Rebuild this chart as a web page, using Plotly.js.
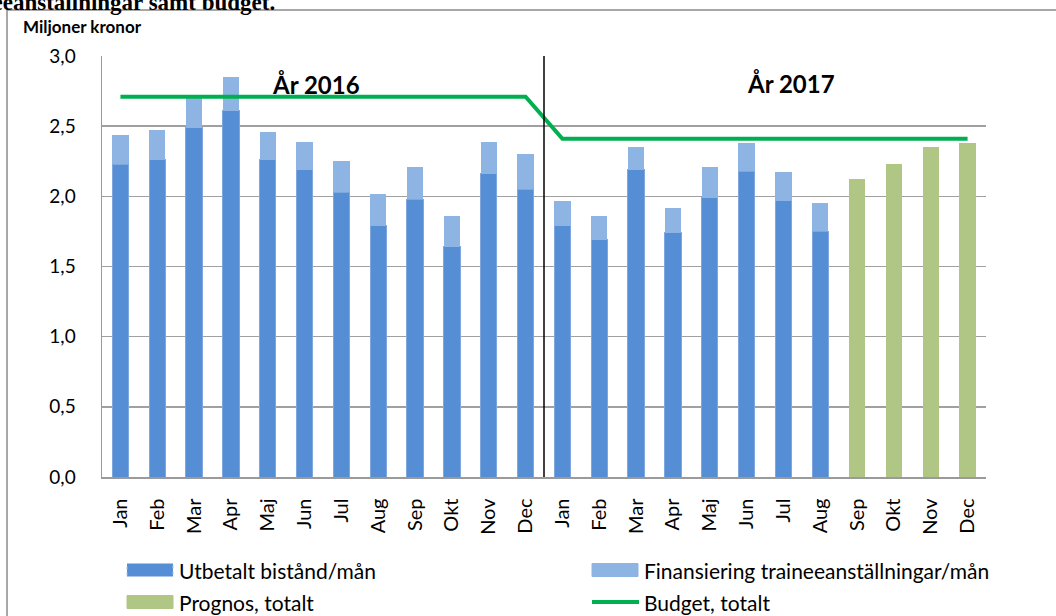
<!DOCTYPE html>
<html>
<head>
<meta charset="utf-8">
<script src="https://cdn.plot.ly/plotly-3.0.1.min.js"></script>
<style>html,body{margin:0;padding:0;background:#fff;}#chart{width:1056px;height:616px;}</style>
</head>
<body>
<div id="chart"></div>
<script>
// ---- data ----
const months = ['Jan','Feb','Mar','Apr','Maj','Jun','Jul','Aug','Sep','Okt','Nov','Dec',
                'Jan','Feb','Mar','Apr','Maj','Jun','Jul','Aug','Sep','Okt','Nov','Dec'];
const utbetalt = [2.23,2.26,2.49,2.61,2.26,2.19,2.03,1.79,1.98,1.64,2.16,2.05,
                  1.79,1.69,2.19,1.74,1.99,2.18,1.97,1.75,null,null,null,null];
const totalActual = [2.44,2.47,2.70,2.85,2.46,2.39,2.25,2.02,2.21,1.86,2.39,2.30,
                  1.97,1.86,2.35,1.92,2.21,2.38,2.17,1.95,null,null,null,null];
const prognos = [null,null,null,null,null,null,null,null,null,null,null,null,
                 null,null,null,null,null,null,null,null,2.12,2.23,2.35,2.38];
const budget = [2.71,2.71,2.71,2.71,2.71,2.71,2.71,2.71,2.71,2.71,2.71,2.71,
                2.41,2.41,2.41,2.41,2.41,2.41,2.41,2.41,2.41,2.41,2.41,2.41];
const yearLabels = ['År 2016','År 2017'];
const seriesNames = ['Utbetalt bistånd/mån','Finansiering traineeanställningar/mån','Prognos, totalt','Budget, totalt'];
const colors = ['#558ED5','#8EB4E3','#AFC685','#00B050'];

const idx = months.map((m,i)=>i);
const finansiering = totalActual.map((t,i)=> t==null ? null : +(t-utbetalt[i]).toFixed(3));

const font = 'Lato, Calibri, "Open Sans", sans-serif';

const traces = [
  {type:'bar', name:seriesNames[0], x:idx, y:utbetalt, width:0.44,
   marker:{color:colors[0], line:{color:'#7EA7DE', width:1}}},
  {type:'bar', name:seriesNames[1], x:idx, y:finansiering, width:0.44,
   marker:{color:colors[1]}},
  {type:'bar', name:seriesNames[2], x:idx, y:prognos, width:0.44,
   marker:{color:colors[2]}},
  {type:'scatter', mode:'lines', name:seriesNames[3], x:idx, y:budget,
   line:{color:colors[3], width:4}}
];

const P = (px)=> (px-102)/884;      // paper x from pixel
const Q = (py)=> (477-py)/421;      // paper y from pixel

// legend keys (drawn as paper shapes, two columns)
const legCols = [127, 592];
const legRows = [570, 602];
const legendShapes = [];
const legendTexts = [];
seriesNames.forEach((nm,i)=>{
  const cx = legCols[i%2], cy = legRows[Math.floor(i/2)];
  if(i===3){
    legendShapes.push({type:'line', xref:'paper', yref:'paper', x0:P(cx), x1:P(cx+47), y0:Q(cy), y1:Q(cy),
      line:{color:colors[i], width:4}});
  } else {
    legendShapes.push({type:'rect', xref:'paper', yref:'paper', x0:P(cx), x1:P(cx+46), y0:Q(cy+6.5), y1:Q(cy-6.5),
      fillcolor:colors[i], line:{color: i===0 ? '#A9C6EC' : colors[i], width:1, dash: i===0 ? 'dot' : 'solid'}});
  }
  legendTexts.push({xref:'paper', yref:'paper', x:P(cx+50), y:Q(cy), xanchor:'left', yanchor:'middle',
    text:nm, showarrow:false, font:{size:21, family:font, color:'#000'}});
});

const layout = {
  width:1056, height:616,
  margin:{l:102, r:70, t:56, b:139},
  paper_bgcolor:'#ffffff', plot_bgcolor:'#ffffff',
  barmode:'stack',
  separators:', ',
  showlegend:false,
  font:{family:font, color:'#000', size:19},
  xaxis:{range:[-0.5,23.5], tickvals:idx, ticktext:months, tickangle:-90,
         showgrid:false, zeroline:false, showline:true, linecolor:'#9A9A9A', linewidth:1.5,
         ticks:'', ticklabelstandoff:12, tickfont:{size:20, family:font}},
  yaxis:{range:[0,3], dtick:0.5, tickformat:'.1f', showgrid:true, gridcolor:'#A0A0A0', gridwidth:1.5,
         zeroline:false, showline:true, linecolor:'#9A9A9A', linewidth:1.5, ticks:'',
         ticklabelstandoff:21, tickfont:{size:19, family:font}},
  shapes:[
    {type:'rect', xref:'paper', yref:'paper', x0:P(7), x1:P(1070), y0:Q(640), y1:Q(10),
     line:{color:'#8C8C8C', width:1.5}, fillcolor:'rgba(0,0,0,0)', layer:'below'},
    {type:'line', xref:'x', yref:'y', x0:11.5, x1:11.5, y0:0, y1:3,
     line:{color:'#000', width:1.5}}
  ].concat(legendShapes),
  annotations:[
    {xref:'paper', yref:'paper', x:P(277), y:Q(17), xanchor:'right', yanchor:'bottom',
     text:'<b>traineeanställningar samt budget.</b>', showarrow:false,
     font:{family:'"Liberation Serif", "DejaVu Serif", serif', size:23, color:'#000'}},
    {xref:'paper', yref:'paper', x:P(21), y:Q(27), xanchor:'left', yanchor:'middle',
     text:'<b>Miljoner kronor</b>', showarrow:false, font:{size:17, family:font}},
    {xref:'x', yref:'paper', x:5.3, y:Q(84), xanchor:'center', yanchor:'middle',
     text:'<b>'+yearLabels[0]+'</b>', showarrow:false, font:{size:24, family:font}},
    {xref:'x', yref:'paper', x:18.2, y:Q(83), xanchor:'center', yanchor:'middle',
     text:'<b>'+yearLabels[1]+'</b>', showarrow:false, font:{size:24, family:font}}
  ].concat(legendTexts)
};

Plotly.newPlot('chart', traces, layout, {displayModeBar:false, staticPlot:true});
</script>
</body>
</html>
